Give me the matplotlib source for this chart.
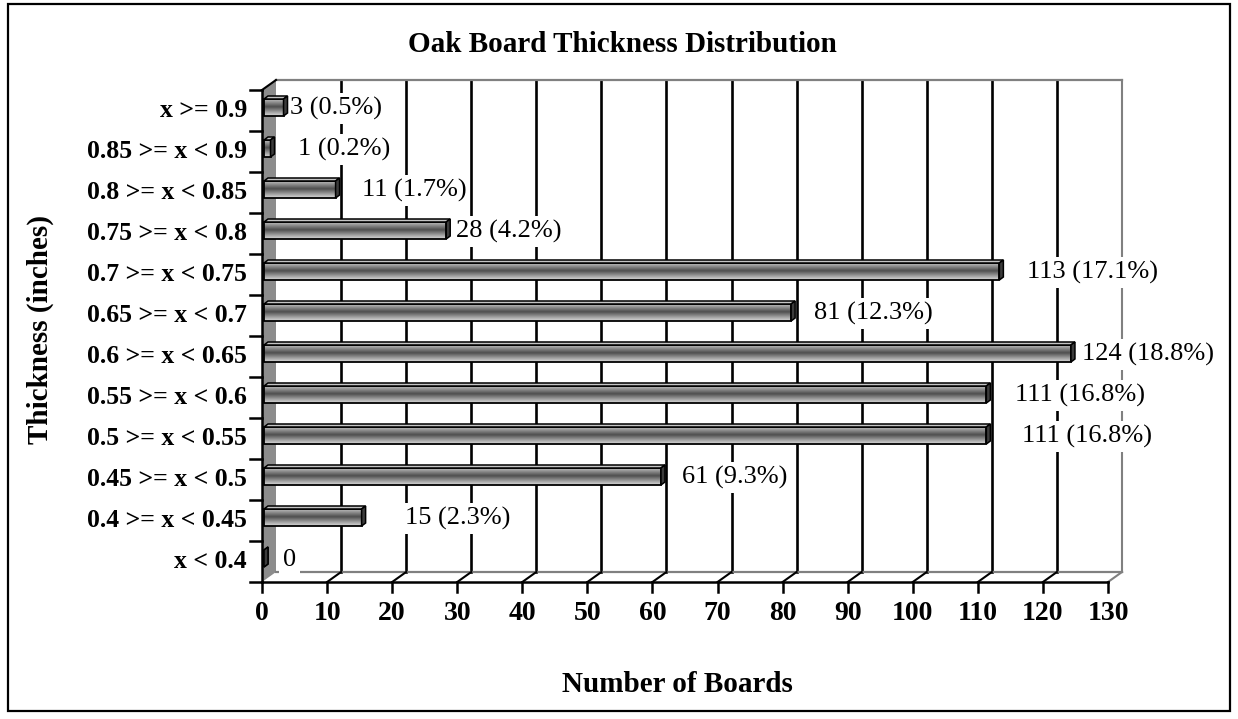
import numpy as np
import matplotlib
matplotlib.use("Agg")
import matplotlib.pyplot as plt
from matplotlib.patches import Rectangle, Polygon
from matplotlib.colors import LinearSegmentedColormap

# ---------------- data ----------------
categories = ["x < 0.4", "0.4 >= x < 0.45", "0.45 >= x < 0.5", "0.5 >= x < 0.55",
              "0.55 >= x < 0.6", "0.6 >= x < 0.65", "0.65 >= x < 0.7",
              "0.7 >= x < 0.75", "0.75 >= x < 0.8", "0.8 >= x < 0.85",
              "0.85 >= x < 0.9", "x >= 0.9"]
counts = [0, 15, 61, 111, 111, 124, 81, 113, 28, 11, 1, 3]
percents = ["", "2.3%", "9.3%", "16.8%", "16.8%", "18.8%", "12.3%", "17.1%",
            "4.2%", "1.7%", "0.2%", "0.5%"]
x_ticks = list(range(0, 131, 10))
title = "Oak Board Thickness Distribution"
x_label = "Number of Boards"
y_label = "Thickness (inches)"
# label gap (px) after end of each bar (Excel placement)
label_gap_px = [15, 39, 17, 32, 25, 7, 19, 24, 6, 22, 23, 2]

# ---------------- layout ----------------
W, H, DPI = 1238, 719, 100
fig = plt.figure(figsize=(W / DPI, H / DPI), dpi=DPI)
fig.patch.set_facecolor("white")
SERIF = ["Liberation Serif", "DejaVu Serif"]

ax_l, ax_r, ax_t, ax_b = 262, 1108, 90, 582
ax = fig.add_axes([ax_l / W, 1 - ax_b / H, (ax_r - ax_l) / W, (ax_b - ax_t) / H])
ax.set_axis_off()
XMAX = x_ticks[-1]
n = len(categories)
ax.set_xlim(0, XMAX)
ax.set_ylim(-0.5, n - 0.5)

ux = XMAX / (ax_r - ax_l)      # data x per px
uy = n / (ax_b - ax_t)         # data y per px
DX, DY = 14 * ux, 10 * uy      # wall depth
y_lo, y_hi = -0.5, n - 0.5

# figure border
fig.add_artist(Rectangle((8 / W, 1 - 711 / H), 1222 / W, 707 / H, transform=fig.transFigure,
                         fill=False, edgecolor="black", lw=1.6))

# left wall
ax.add_patch(Polygon([(0, y_lo), (0, y_hi), (DX, y_hi + DY), (DX, y_lo + DY)], closed=True,
                     facecolor="#8c8c8c", edgecolor="none", zorder=1, clip_on=False))
ax.plot([0, DX], [y_hi, y_hi + DY], color="black", lw=1.5, zorder=2, clip_on=False)
ax.plot([0, 0], [y_lo, y_hi], color="black", lw=1.8, zorder=2, clip_on=False)

# back wall gridlines / edges
for xt in x_ticks[1:]:
    c = "#808080" if xt == XMAX else "black"
    lw = 1.5 if xt == XMAX else 1.9
    ax.plot([xt + DX, xt + DX], [y_lo + DY, y_hi + DY], color=c, lw=lw, zorder=1, clip_on=False)
ax.plot([DX, XMAX + DX], [y_hi + DY, y_hi + DY], color="#808080", lw=1.6, zorder=1, clip_on=False)
ax.plot([DX, XMAX + DX], [y_lo + DY, y_lo + DY], color="#808080", lw=1.6, zorder=1, clip_on=False)
# floor diagonals
for xt in x_ticks[1:]:
    c = "#808080" if xt == XMAX else "black"
    ax.plot([xt, xt + DX], [y_lo, y_lo + DY], color=c, lw=1.5, zorder=1, clip_on=False)

# front x axis
ax.plot([0, XMAX], [y_lo, y_lo], color="black", lw=1.8, zorder=2, clip_on=False)
for xt in x_ticks:
    ax.plot([xt, xt], [y_lo, y_lo - 10 * uy], color="black", lw=1.8, zorder=2, clip_on=False)
    ax.text(xt, y_lo - 32 * uy, str(xt), ha="center", va="center", fontsize=20,
            fontweight="bold", family=SERIF)
# y axis ticks + category labels
for k in range(n + 1):
    yb = k - 0.5
    ax.plot([0, -12 * ux], [yb, yb], color="black", lw=1.8, zorder=2, clip_on=False)
for k, cat in enumerate(categories):
    ax.text(-15 * ux, k, cat, ha="right", va="center", fontsize=18.5, fontweight="bold",
            family=SERIF)

# bars
grad_cmap = LinearSegmentedColormap.from_list(
    "bar", [(0.0, "#d8d8d8"), (0.2, "#a8a8a8"), (0.55, "#4e4e4e"), (0.8, "#8a8a8a"), (1.0, "#bdbdbd")])
grad = np.linspace(0, 1, 64).reshape(-1, 1)
bh = 17 * uy
oy = 3 * uy
bx0 = 2 * ux
ddx, ddy = 4 * ux, 3 * uy
for k, v in enumerate(counts):
    y0 = k - bh / 2 + oy
    y1 = y0 + bh
    x0 = bx0
    x1 = v + bx0
    if v > 0:
        ax.imshow(grad, extent=(x0, x1, y1, y0), aspect="auto", cmap=grad_cmap,
                  zorder=4, interpolation="bilinear", clip_on=False)
        ax.add_patch(Rectangle((x0, y0), x1 - x0, bh, fill=False, edgecolor="black", lw=1.3,
                               zorder=5, clip_on=False))
        ax.add_patch(Polygon([(x0, y1), (x1, y1), (x1 + ddx, y1 + ddy), (x0 + ddx, y1 + ddy)],
                             closed=True, facecolor="#c4c4c4", edgecolor="black", lw=1.1,
                             zorder=5, clip_on=False))
    else:
        ax.add_patch(Polygon([(x0, y0), (x0, y1), (x0 + ddx, y1 + ddy), (x0 + ddx, y0 + ddy)],
                             closed=True, facecolor="#5a5a5a", edgecolor="black", lw=1.1,
                             zorder=5, clip_on=False))
    ax.add_patch(Polygon([(x1, y0), (x1, y1), (x1 + ddx, y1 + ddy), (x1 + ddx, y0 + ddy)],
                         closed=True, facecolor="#3c3c3c", edgecolor="black", lw=1.1,
                         zorder=5, clip_on=False))
    lab = f"{v} ({percents[k]})" if percents[k] else f"{v}"
    ax.text(x1 + ddx + label_gap_px[k] * ux, k + oy - 1 * uy, lab, ha="left", va="center",
            fontsize=19, family=SERIF, zorder=3,
            bbox=dict(boxstyle="square,pad=0.15", facecolor="white", edgecolor="none"))

ax.set_xlim(0, XMAX)
ax.set_ylim(-0.5, n - 0.5)

# titles
fig.text(622 / W, 1 - 45 / H, title, ha="center", va="center", fontsize=21,
         fontweight="bold", family=SERIF)
fig.text(677 / W, 1 - 685 / H, x_label, ha="center", va="center", fontsize=21,
         fontweight="bold", family=SERIF)
fig.text(40 / W, 1 - 330 / H, y_label, ha="center", va="center", rotation=90, fontsize=21,
         fontweight="bold", family=SERIF)

fig.savefig("out.png", dpi=DPI, facecolor="white")
